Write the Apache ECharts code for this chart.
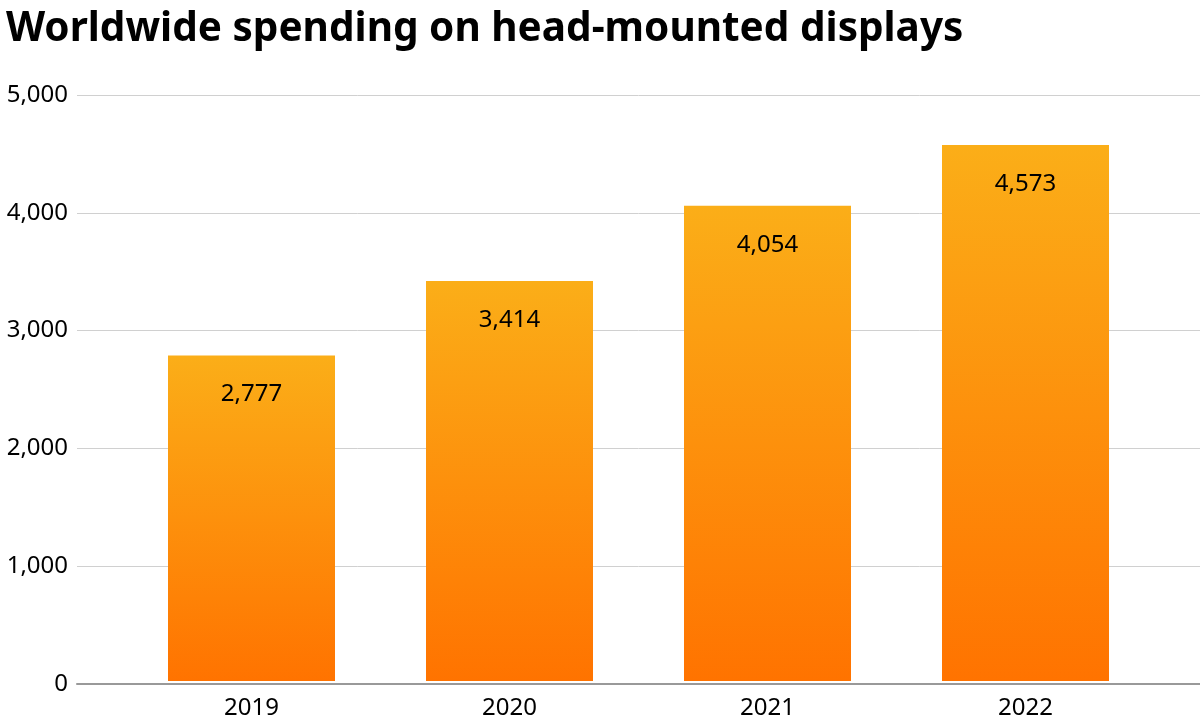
<!DOCTYPE html>
<html><head><meta charset="utf-8">
<script src="https://cdn.jsdelivr.net/npm/echarts@6/dist/echarts.min.js"></script>
<style>html,body{margin:0;padding:0;background:#fff}#c{width:1200px;height:720px}</style>
</head><body><div id="c"></div>
<script>
const title = 'Worldwide spending on head-mounted displays';
const categories = ['2019', '2020', '2021', '2022'];
const values = [2777, 3414, 4054, 4573];
const yTicks = [0, 1000, 2000, 3000, 4000, 5000];

const FONT = 'Noto Sans';
const chart = echarts.init(document.getElementById('c'), null, {renderer: 'canvas'});
const grad = new echarts.graphic.LinearGradient(0, 0, 0, 1, [
  {offset: 0, color: '#fbae18'},
  {offset: 1, color: '#ff7300'}
]);
chart.setOption({
  animation: false,
  backgroundColor: '#fff',
  title: {
    text: title, left: 1, top: 4,
    textStyle: {fontFamily: FONT, fontWeight: 'bold', fontSize: 40.5, color: '#000'}
  },
  grid: [
    {left: 77, right: 0, top: 95, bottom: 36, containLabel: false},
    {left: 122.5, right: 45.5, top: 95, bottom: 36, containLabel: false}
  ],
  xAxis: [
    {gridIndex: 0, type: 'category', data: categories, axisLabel: {show: false},
     axisTick: {show: false}, axisLine: {show: true, lineStyle: {color: '#999', width: 2}}},
    {gridIndex: 1, type: 'category', data: categories,
     axisTick: {show: false}, axisLine: {show: false},
     axisLabel: {fontFamily: FONT, fontSize: 24, color: '#000', margin: 15}}
  ],
  yAxis: [
    {gridIndex: 0, type: 'value', min: yTicks[0], max: yTicks[yTicks.length - 1], interval: 1000,
     axisLabel: {fontFamily: FONT, fontSize: 24, color: '#000', margin: 9,
       formatter: v => v.toLocaleString('en-US')},
     splitLine: {lineStyle: {color: '#d0d0d0', width: 1}},
     axisLine: {show: false}, axisTick: {show: false}},
    {gridIndex: 1, type: 'value', min: yTicks[0], max: yTicks[yTicks.length - 1], interval: 1000,
     axisLabel: {show: false}, splitLine: {show: false}, axisLine: {show: false}, axisTick: {show: false}}
  ],
  series: [{
    type: 'bar', xAxisIndex: 1, yAxisIndex: 1, data: values, barWidth: 167,
    itemStyle: {color: grad},
    z: 1,
    label: {show: true, position: 'insideTop', distance: 27, fontFamily: FONT, fontSize: 24, color: '#000',
      formatter: p => p.value.toLocaleString('en-US')}
  }]
});
</script></body></html>
